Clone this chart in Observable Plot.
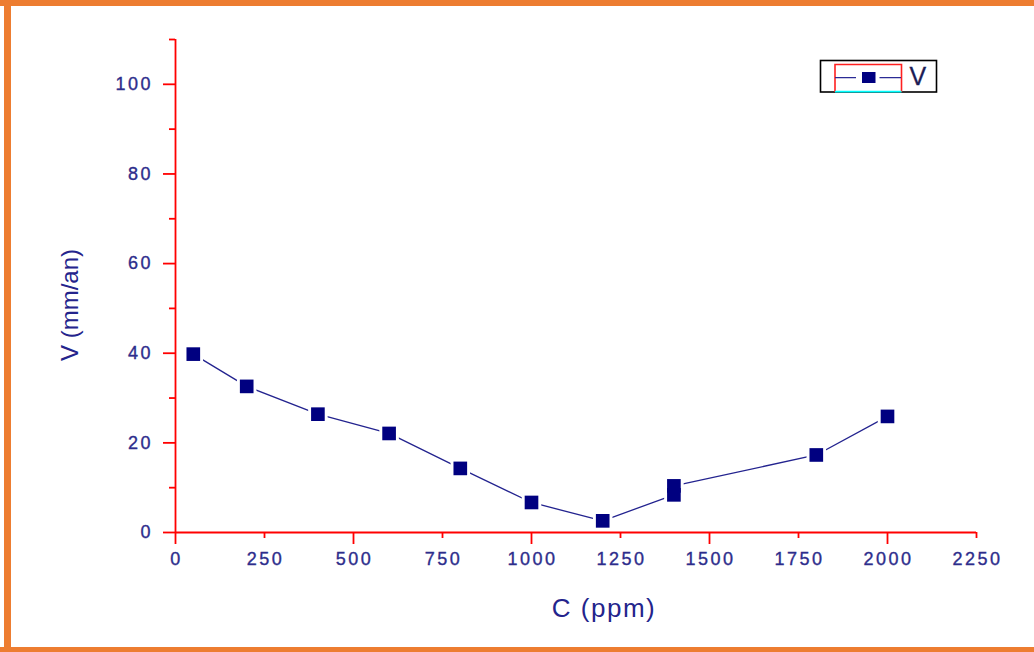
<!DOCTYPE html>
<html>
<head>
<meta charset="utf-8">
<script src="https://cdn.jsdelivr.net/npm/d3@7"></script>
<script src="https://cdn.jsdelivr.net/npm/@observablehq/plot@0.6"></script>
<style>
  html, body { margin: 0; padding: 0; background: #fff; }
  #wrap { position: relative; width: 1034px; height: 652px; overflow: hidden; background: #fff; }
  #chart { position: absolute; left: 0; top: 0; }
  #legend { position: absolute; left: 0; top: 0; pointer-events: none; }
  .band { position: absolute; background: #ED7D31; }
  #chart g[aria-label="x-axis tick label"] text,
  #chart g[aria-label="y-axis tick label"] text { letter-spacing: 2.5px; stroke: #2d2d8c; stroke-width: 0.35px; }
</style>
</head>
<body>
<div id="wrap">
  <div id="chart"></div>
  <svg id="legend" width="1034" height="652" font-family="Liberation Sans, Arial, sans-serif">
    <rect x="820.5" y="60.5" width="116" height="31.5" fill="#fff" stroke="#000" stroke-width="1.6"/>
    <path d="M835,92 V64.5 H901.5 V92" fill="none" stroke="#ff2020" stroke-width="1.6"/>
    <path d="M835,91.6 H901.5" stroke="#00ffff" stroke-width="1.6"/>
    <path d="M835,77.7 H856 M879.5,77.7 H901" stroke="#2b2b95" stroke-width="1.3"/>
    <rect x="862" y="72" width="13.5" height="11" fill="#000080"/>
    <text x="909.5" y="85" font-size="25" fill="#1c1c55" stroke="#1c1c55" stroke-width="0.3">V</text>
  </svg>
  <div class="band" style="left:0;top:0;width:1034px;height:6px"></div>
  <div class="band" style="left:4px;top:0;width:7px;height:652px"></div>
  <div class="band" style="left:0;top:647px;width:1034px;height:5px"></div>
</div>
<script>
// Corrosion rate V (mm/an) against inhibitor concentration C (ppm)
const C = [50, 200, 400, 600, 800, 1000, 1200, 1400, 1400, 1800, 2000];
const V = [39.8, 32.6, 26.4, 22.1, 14.3, 6.7, 2.6, 8.4, 10.4, 17.3, 25.9];

// Axis ticks
const xTickLabels = [0, 250, 500, 750, 1000, 1250, 1500, 1750, 2000, 2250];
const xMajorTicks = [0, 500, 1000, 1500, 2000];
const xMinorTicks = [250, 750, 1250, 1750, 2250];
const yMajorTicks = [0, 20, 40, 60, 80, 100];
const yMinorTicks = [10, 30, 50, 70, 90, 110];

const xTitle = "C (ppm)";
const yTitle = "V (mm/an)";

const rows = C.map((c, i) => ({c, v: V[i]}));

const axisRed = "#ff0000";
const labelColor = "#2d2d8c";
const titleColor = "#24248c";
const navy = "#000080";
const blank = () => "";
const plain = d3.format("d");

const chart = Plot.plot({
  width: 1034,
  height: 652,
  marginLeft: 175,
  marginRight: 58,
  marginTop: 39,
  marginBottom: 120,
  style: {fontFamily: "Liberation Sans, Arial, sans-serif", background: "transparent", overflow: "visible"},
  x: {domain: [xTickLabels[0], xTickLabels[xTickLabels.length - 1]], label: null},
  y: {domain: [yMajorTicks[0], yMinorTicks[yMinorTicks.length - 1]], label: null},
  marks: [
    // axis lines
    Plot.ruleY([0], {x1: xTickLabels[0], x2: xTickLabels[xTickLabels.length - 1], stroke: axisRed, strokeWidth: 1.8}),
    Plot.ruleX([0], {y1: yMajorTicks[0], y2: yMinorTicks[yMinorTicks.length - 1], stroke: axisRed, strokeWidth: 1.8}),
    // x ticks and labels
    Plot.axisX(xMajorTicks, {tickSize: 12, stroke: axisRed, strokeWidth: 1.8, tickFormat: blank}),
    Plot.axisX(xMinorTicks, {tickSize: 6, stroke: axisRed, strokeWidth: 1.8, tickFormat: blank}),
    Plot.axisX(xTickLabels, {tickSize: 0, tickPadding: 19.5, fill: labelColor, fontSize: 18, dx: 1, tickFormat: plain}),
    // y ticks and labels
    Plot.axisY(yMajorTicks, {tickSize: 12, tickPadding: 10.5, stroke: axisRed, strokeWidth: 1.8, fill: labelColor, fontSize: 18, tickFormat: plain}),
    Plot.axisY(yMinorTicks, {tickSize: 6, stroke: axisRed, strokeWidth: 1.8, tickFormat: blank}),
    // axis titles
    Plot.text([xTitle], {frameAnchor: "bottom", textAnchor: "middle", dx: 28, dy: 84, lineAnchor: "bottom", fontSize: 26, fill: titleColor}),
    Plot.text([yTitle], {frameAnchor: "left", textAnchor: "middle", rotate: -90, dx: -98, dy: 19, lineAnchor: "bottom", fontSize: 24, fill: titleColor}),
    // series
    Plot.line(rows, {x: "c", y: "v", stroke: "#23238f", strokeWidth: 1.3}),
    Plot.dot(rows, {x: "c", y: "v", symbol: "square", r: 11, fill: "#fff"}),
    Plot.dot(rows, {x: "c", y: "v", symbol: "square", r: 7.7, fill: navy})
  ]
});

// the horizontal title is set slightly wider than the plain font
d3.select(chart).selectAll("text")
  .filter(function () { return this.textContent === xTitle; })
  .attr("letter-spacing", "1.5px");

document.getElementById("chart").appendChild(chart);
</script>
</body>
</html>
